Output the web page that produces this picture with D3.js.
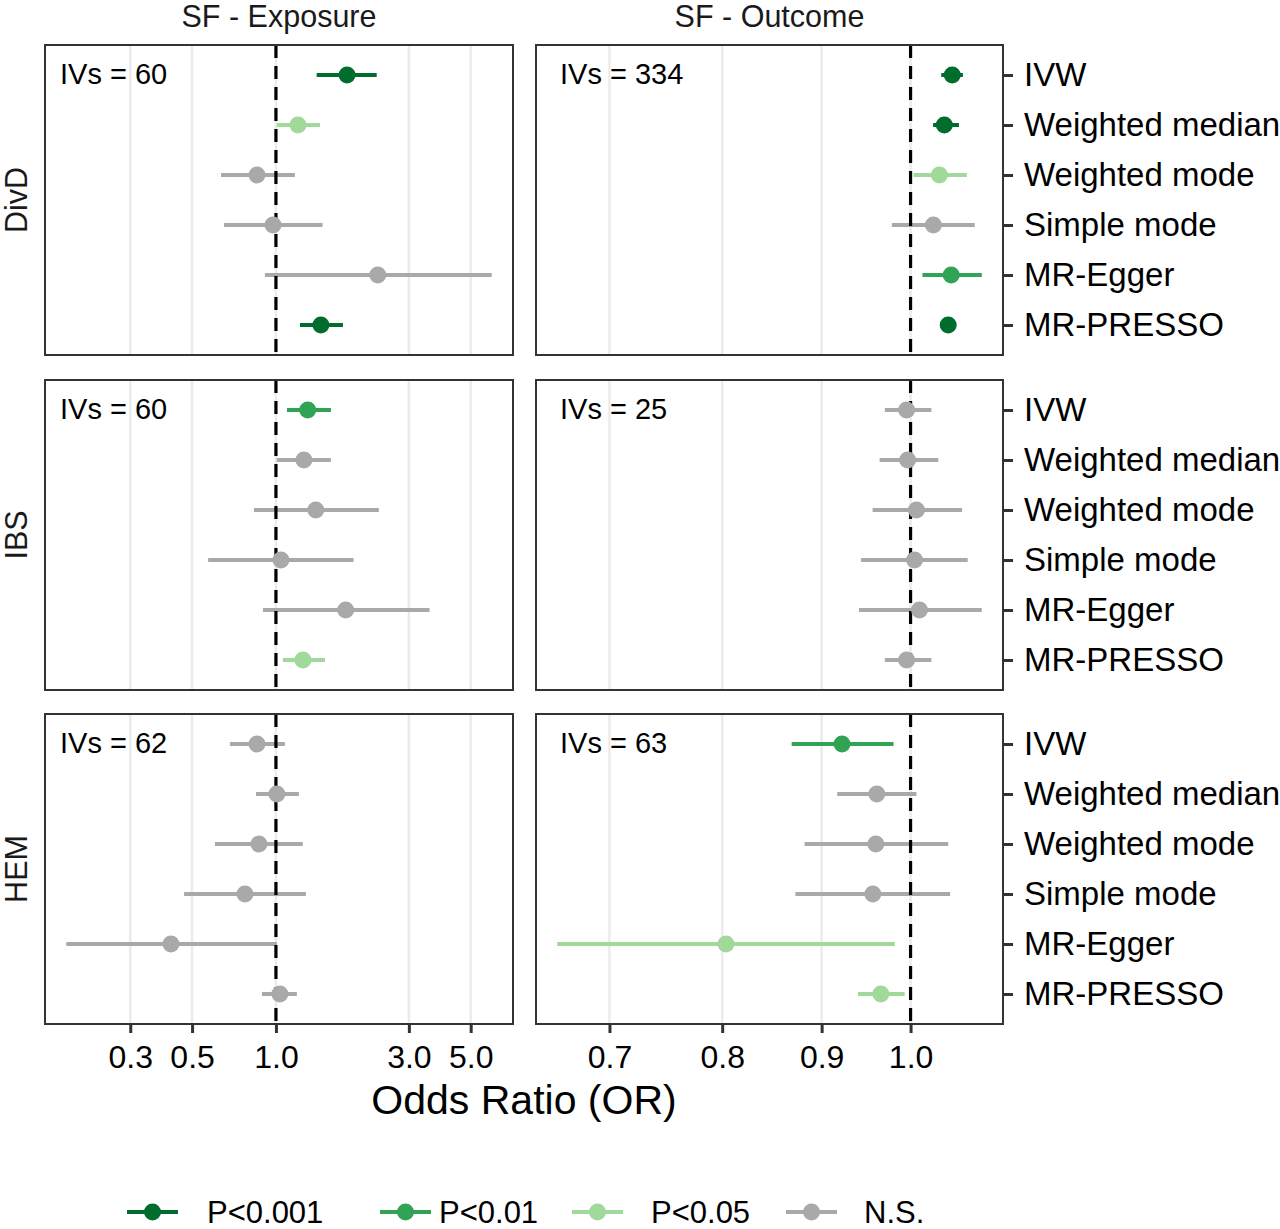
<!DOCTYPE html>
<html>
<head>
<meta charset="utf-8">
<script src="https://cdn.jsdelivr.net/npm/d3@7"></script>
<style>
  html, body { margin: 0; padding: 0; background: #fff; }
  svg { display: block; font-family: "Liberation Sans", Arial, sans-serif; }
</style>
</head>
<body>
<svg id="chart" width="1280" height="1229"></svg>
<script>
// ---------------- DATA ----------------
const methods = ["IVW", "Weighted median", "Weighted mode", "Simple mode", "MR-Egger", "MR-PRESSO"];
const rowLabels = ["DivD", "IBS", "HEM"];
const colLabels = ["SF - Exposure", "SF - Outcome"];
const sigLabels = ["P<0.001", "P<0.01", "P<0.05", "N.S."];
const sigColors = ["#006d2c", "#31a354", "#a1d99b", "#a9a9a9"];
const ivsDivD = [60, 334];
const ivsIBS = [60, 25];
const ivsHEM = [62, 63];
const exposureTicks = [0.3, 0.5, 1.0, 3.0, 5.0];
const outcomeTicks = [0.7, 0.8, 0.9, 1.0];

// DivD, SF as exposure
const orDivdExp  = [1.80, 1.20, 0.855, 0.976, 2.32, 1.45];
const loDivdExp  = [1.40, 1.008, 0.635, 0.651, 0.913, 1.22];
const hiDivdExp  = [2.30, 1.44, 1.17, 1.47, 5.95, 1.74];
const sigDivdExp = [0, 2, 3, 3, 3, 0];
// DivD, SF as outcome
const orDivdOut  = [1.0506, 1.0408, 1.0347, 1.0274, 1.0493, 1.0456];
const loDivdOut  = [1.037, 1.027, 1.0035, 0.978, 1.0142, 1.036];
const hiDivdOut  = [1.064, 1.059, 1.069, 1.079, 1.088, 1.055];
const sigDivdOut = [0, 0, 2, 3, 1, 0];
// IBS, SF as exposure
const orIbsExp   = [1.30, 1.26, 1.39, 1.042, 1.78, 1.25];
const loIbsExp   = [1.095, 1.008, 0.834, 0.571, 0.898, 1.059];
const hiIbsExp   = [1.575, 1.575, 2.34, 1.90, 3.56, 1.50];
const sigIbsExp  = [1, 3, 3, 3, 3, 2];
// IBS, SF as outcome
const orIbsOut   = [0.9953, 0.9965, 1.007, 1.0047, 1.0106, 0.9953];
const loIbsOut   = [0.970, 0.964, 0.956, 0.943, 0.9407, 0.970];
const hiIbsOut   = [1.025, 1.0334, 1.063, 1.070, 1.088, 1.025];
const sigIbsOut  = [3, 3, 3, 3, 3, 3];
// HEM, SF as exposure
const orHemExp   = [0.855, 1.008, 0.869, 0.774, 0.420, 1.033];
const loHemExp   = [0.684, 0.848, 0.604, 0.468, 0.1768, 0.891];
const hiHemExp   = [1.077, 1.209, 1.249, 1.281, 1.008, 1.189];
const sigHemExp  = [3, 3, 3, 3, 3, 3];
// HEM, SF as outcome
const orHemOut   = [0.922, 0.9608, 0.9597, 0.9563, 0.8036, 0.9654];
const loHemOut   = [0.8686, 0.9168, 0.8820, 0.8725, 0.658, 0.9396];
const hiHemOut   = [0.980, 1.007, 1.0456, 1.048, 0.9814, 0.993];
const sigHemOut  = [1, 3, 3, 3, 2, 2];

// ---------------- BUILD PANELS ----------------
function rows(or, lo, hi, sig) {
  return methods.map((m, i) => ({ method: m, or: or[i], lo: lo[i], hi: hi[i], sig: sig[i] }));
}
const panelData = [
  [rows(orDivdExp, loDivdExp, hiDivdExp, sigDivdExp), rows(orDivdOut, loDivdOut, hiDivdOut, sigDivdOut)],
  [rows(orIbsExp, loIbsExp, hiIbsExp, sigIbsExp),     rows(orIbsOut, loIbsOut, hiIbsOut, sigIbsOut)],
  [rows(orHemExp, loHemExp, hiHemExp, sigHemExp),     rows(orHemOut, loHemOut, hiHemOut, sigHemOut)]
];
const ivs = [ivsDivD, ivsIBS, ivsHEM];
const colTicks = [exposureTicks, outcomeTicks];

// ---------------- LAYOUT ----------------
const svg = d3.select("#chart");
const colX = [[45, 513], [536, 1003]];
const rowY = [[45, 355], [380, 690], [714, 1024]];
const ivsOffset = [15, 24];
const fontMain = 32;

// x scales per column: log scale, domain from data with 5% expansion (log space)
const xScales = colX.map((rng, c) => {
  const all = panelData.flatMap(r => r[c]);
  const lmin = Math.log10(d3.min(all, d => d.lo));
  const lmax = Math.log10(d3.max(all, d => d.hi));
  const pad = (lmax - lmin) * 0.05;
  return d3.scaleLog().domain([Math.pow(10, lmin - pad), Math.pow(10, lmax + pad)]).range(rng);
});

const yScale = d3.scalePoint().domain(methods).range([0, 310]).padding(0.6);

// column titles
colLabels.forEach((t, c) => {
  svg.append("text")
    .attr("x", (colX[c][0] + colX[c][1]) / 2)
    .attr("y", 27)
    .attr("text-anchor", "middle")
    .attr("font-size", 30.5)
    .attr("fill", "#1a1a1a")
    .text(t);
});

// row labels
rowLabels.forEach((t, r) => {
  svg.append("text")
    .attr("transform", `translate(27,${(rowY[r][0] + rowY[r][1]) / 2}) rotate(-90)`)
    .attr("text-anchor", "middle")
    .attr("font-size", 30.5)
    .attr("fill", "#1a1a1a")
    .text(t);
});

for (let r = 0; r < 3; r++) {
  for (let c = 0; c < 2; c++) {
    const x = xScales[c];
    const y0 = rowY[r][0];
    const g = svg.append("g").attr("transform", `translate(0,${y0})`);
    const data = panelData[r][c];
    const h = rowY[r][1] - rowY[r][0];

    // clip
    const clipId = `clip-${r}-${c}`;
    g.append("clipPath").attr("id", clipId).append("rect")
      .attr("x", colX[c][0]).attr("y", 0).attr("width", colX[c][1] - colX[c][0]).attr("height", h);

    const inner = g.append("g").attr("clip-path", `url(#${clipId})`);

    // grid
    inner.selectAll("line.grid").data(colTicks[c]).join("line")
      .attr("class", "grid")
      .attr("x1", d => x(d)).attr("x2", d => x(d))
      .attr("y1", 0).attr("y2", h)
      .attr("stroke", "#ebebeb").attr("stroke-width", 2.5);

    // error bars
    inner.selectAll("line.err").data(data).join("line")
      .attr("class", "err")
      .attr("x1", d => x(d.lo)).attr("x2", d => x(d.hi))
      .attr("y1", d => yScale(d.method)).attr("y2", d => yScale(d.method))
      .attr("stroke", d => sigColors[d.sig]).attr("stroke-width", 4);

    // reference line
    inner.append("line")
      .attr("x1", x(1)).attr("x2", x(1))
      .attr("y1", 0).attr("y2", h)
      .attr("stroke", "#000").attr("stroke-width", 3.2)
      .attr("stroke-dasharray", "13,8");

    // points
    inner.selectAll("circle.pt").data(data).join("circle")
      .attr("class", "pt")
      .attr("cx", d => x(d.or)).attr("cy", d => yScale(d.method))
      .attr("r", 8.5)
      .attr("fill", d => sigColors[d.sig]);

    // IVs label
    g.append("text")
      .attr("x", colX[c][0] + ivsOffset[c])
      .attr("y", yScale(methods[0]) + 9)
      .attr("font-size", 29)
      .attr("fill", "#000")
      .text(`IVs = ${ivs[r][c]}`);

    // border
    g.append("rect")
      .attr("x", colX[c][0]).attr("y", 0)
      .attr("width", colX[c][1] - colX[c][0]).attr("height", h)
      .attr("fill", "none").attr("stroke", "#333").attr("stroke-width", 2);

    // right y axis on right column
    if (c === 1) {
      const ay = g.append("g").attr("transform", `translate(${colX[c][1] + 1},0)`)
        .call(d3.axisRight(yScale).tickSize(9).tickPadding(11));
      ay.select(".domain").remove();
      ay.selectAll(".tick line").attr("stroke", "#333").attr("stroke-width", 3);
      ay.selectAll(".tick text").attr("font-size", 33).attr("fill", "#000")
        .attr("font-family", "Liberation Sans, Arial, sans-serif");
    }

    // bottom x axis
    if (r === 2) {
      const ax = g.append("g").attr("transform", `translate(0,${h + 1})`)
        .call(d3.axisBottom(x).tickValues(colTicks[c]).tickFormat(d3.format(".1f")).tickSize(8).tickPadding(12));
      ax.select(".domain").remove();
      ax.selectAll(".tick line").attr("stroke", "#333").attr("stroke-width", 3);
      ax.selectAll(".tick text").attr("font-size", fontMain).attr("fill", "#000")
        .attr("font-family", "Liberation Sans, Arial, sans-serif");
    }
  }
}

// x-axis title
svg.append("text")
  .attr("x", (colX[0][0] + colX[1][1]) / 2)
  .attr("y", 1114)
  .attr("text-anchor", "middle")
  .attr("font-size", 41)
  .attr("fill", "#000")
  .text("Odds Ratio (OR)");

// legend
const legKeyX = [127, 380, 572, 786];
const legTextX = [207, 439, 651, 864];
const legY = 1212;
const leg = svg.append("g");
sigLabels.forEach((lab, i) => {
  leg.append("line")
    .attr("x1", legKeyX[i]).attr("x2", legKeyX[i] + 51)
    .attr("y1", legY).attr("y2", legY)
    .attr("stroke", sigColors[i]).attr("stroke-width", 4);
  leg.append("circle")
    .attr("cx", legKeyX[i] + 25.5).attr("cy", legY).attr("r", 8.5)
    .attr("fill", sigColors[i]);
  leg.append("text")
    .attr("x", legTextX[i]).attr("y", legY + 10.5)
    .attr("font-size", 31).attr("fill", "#000")
    .text(lab);
});
</script>
</body>
</html>
